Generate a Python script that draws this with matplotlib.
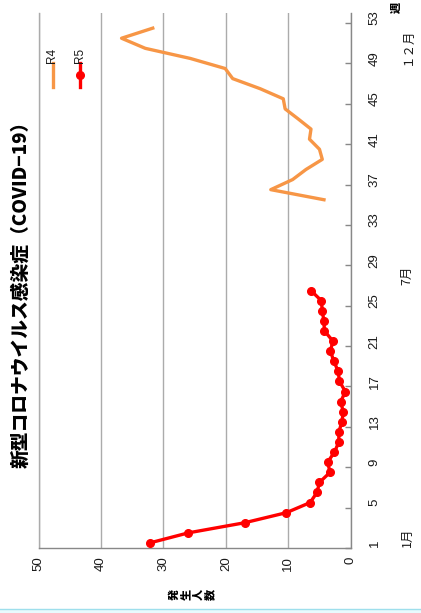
import matplotlib
matplotlib.use("Agg")
import matplotlib.pyplot as plt
from matplotlib.lines import Line2D
from matplotlib.patches import Rectangle

plt.rcParams['font.family'] = ['Noto Sans CJK JP', 'DejaVu Sans']

title = "新型コロナウイルス感染症（COVID−19）"
value_label = "発生人数"
week_label = "週"

# Weekly case counts per sentinel site
weeks_r5 = list(range(1, 27))
cases_r5 = [32.2, 26.0, 17.0, 10.3, 6.5, 5.4, 5.0, 3.3, 3.7, 2.6, 1.9, 1.9, 1.4,
            1.2, 1.6, 0.85, 1.8, 2.0, 2.7, 3.25, 2.85, 4.2, 4.3, 4.55, 4.7, 6.36]
weeks_r4 = list(range(35, 53))
cases_r4 = [4.28, 12.8, 9.3, 7.16, 4.55, 5.0, 6.6, 6.36, 8.4, 10.5, 10.8, 14.5,
            18.9, 20.1, 25.7, 32.9, 36.7, 31.7]

week_ticks = list(range(1, 54, 4))
value_ticks = [0, 10, 20, 30, 40, 50]
month_labels = ["1月", "7月", "１２月"]
month_weeks = [1.6, 27.5, 50.2]
series_names = ["R4", "R5"]

c_r4 = '#F79646'
c_r5 = '#FF0000'
grid_c = '#ababab'

W, H = 421, 613
fig = plt.figure(figsize=(W / 100, H / 100), dpi=100)
fig.patch.set_facecolor('white')

# The chart is laid out turned a quarter turn: weeks run upward, counts run leftward
x0, x1 = 38.5, 350.7
y_top, y_bot = 13, 548
ax = fig.add_axes([x0 / W, (H - y_bot) / H, (x1 - x0) / W, (y_bot - y_top) / H])

ax.plot(cases_r4, weeks_r4, color=c_r4, lw=2.4, solid_joinstyle='round', zorder=3)
ax.plot(cases_r5, weeks_r5, color=c_r5, lw=2.4, marker='o', ms=5.5,
        solid_joinstyle='round', zorder=4)

ax.set_xlim(50, 0)
ax.set_ylim(0.5, 53.5)

ax.set_xticks(value_ticks)
ax.set_xticklabels([str(v) for v in value_ticks], family=['Liberation Sans'])
ax.grid(axis='x', color=grid_c, lw=1)
ax.tick_params(axis='x', length=0, pad=6, labelrotation=90, labelsize=9.5,
               labelcolor='#1a1a1a')

ax.yaxis.tick_right()
ax.set_yticks(week_ticks)
ax.set_yticklabels([str(w) for w in week_ticks], family=['Liberation Sans'])
ax.set_yticks([w - 0.5 for w in week_ticks], minor=True)
ax.tick_params(axis='y', which='major', length=0, pad=13, labelrotation=90,
               labelsize=9.5, labelcolor='#1a1a1a')
ax.tick_params(axis='y', which='minor', direction='in', length=4, width=1,
               color='#888888')
for lab in ax.get_yticklabels():
    lab.set_verticalalignment('center')

ax.spines['top'].set_visible(False)
ax.spines['left'].set_color(grid_c)
ax.spines['right'].set_color('#888888')
ax.spines['bottom'].set_color('#888888')
for s in ax.spines.values():
    s.set_linewidth(1)

# Month markers beside the week axis
tr = ax.get_yaxis_transform()
mx = (407 - x0) / (x1 - x0)
for lab, wk in zip(month_labels, month_weeks):
    ax.text(mx, wk, lab, transform=tr, rotation=90, ha='center', va='center',
            fontsize=9, color='#1a1a1a', clip_on=False)

# Title and axis captions
fig.text(21 / W, 1 - 290 / H, title, rotation=90, ha='center', va='center',
         fontsize=13.5, fontweight='heavy')
for i, ch in enumerate(value_label):
    fig.text((174 + 12 * i) / W, 1 - 594 / H, ch, rotation=90, ha='center',
             va='center', fontsize=8, fontweight='heavy')
fig.text(396 / W, 1 - 7 / H, week_label, rotation=90, ha='center', va='center',
         fontsize=8, fontweight='heavy')

# Legend
for name, col, lx, mk in zip(series_names, [c_r4, c_r5], [52.5, 79.5], [None, 'o']):
    fig.add_artist(Line2D([lx / W, lx / W], [1 - 63 / H, 1 - 87 / H],
                          color=col, lw=2.4, transform=fig.transFigure))
    if mk:
        fig.add_artist(Line2D([lx / W], [1 - 75 / H], color=col, marker=mk, ms=5.5,
                              transform=fig.transFigure))
    fig.text(lx / W, 1 - 55 / H, name, rotation=90, ha='center', va='center',
             fontsize=8.5, family=['Liberation Sans'], color='#1a1a1a')

# Light strip along the bottom edge
fig.add_artist(Rectangle((0, 0), 1, 4 / H, transform=fig.transFigure,
                         facecolor='#e8fafd', edgecolor='none'))
fig.add_artist(Line2D([0, 1], [4 / H, 4 / H], color='#9edfec', lw=1,
                      transform=fig.transFigure))

fig.savefig('out.png', dpi=100)
